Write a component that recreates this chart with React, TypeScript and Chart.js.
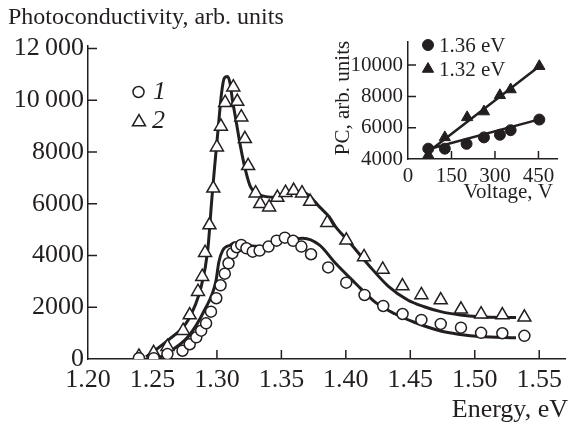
import { useEffect, useRef } from 'react';
import { Chart, registerables } from 'chart.js';

Chart.register(...registerables);

const SERIF = '"Liberation Serif", "Times New Roman", Times, serif';
const INK = '#231f20';

// ---------- main chart data ----------
const energyTicks = [1.2, 1.25, 1.3, 1.35, 1.4, 1.45, 1.5, 1.55];
const energyTickLabels = ['1.20', '1.25', '1.30', '1.35', '1.40', '1.45', '1.50', '1.55'];
const pcTicks = [0, 2000, 4000, 6000, 8000, 10000, 12000];
const pcTickLabels = ['0', '2000', '4000', '6000', '8000', '10\u2009000', '12\u2009000'];

// series 1 (circles)
const energy1 = [1.2395, 1.251, 1.2616, 1.2733, 1.2789, 1.284, 1.2878, 1.2916, 1.2954, 1.2995, 1.3028, 1.3061, 1.309, 1.312, 1.3153, 1.3189, 1.3229, 1.3278, 1.3331, 1.34, 1.3463, 1.3527, 1.3591, 1.3655, 1.373, 1.3863, 1.4003, 1.4145, 1.429, 1.444, 1.4586, 1.4736, 1.4893, 1.5049, 1.5214, 1.5385];
const pc1 = [30, 30, 190, 320, 570, 840, 1095, 1380, 1830, 2350, 2850, 3300, 3700, 4090, 4320, 4410, 4280, 4150, 4190, 4345, 4575, 4690, 4570, 4345, 4050, 3540, 2950, 2475, 2050, 1740, 1510, 1355, 1210, 1010, 995, 895];

// series 2 (triangles)
const energy2 = [1.2395, 1.2509, 1.2616, 1.2738, 1.2789, 1.2853, 1.2886, 1.2908, 1.2942, 1.2972, 1.3, 1.3031, 1.3064, 1.3127, 1.3158, 1.3189, 1.3217, 1.3242, 1.33, 1.3336, 1.3405, 1.3469, 1.3532, 1.3595, 1.366, 1.3723, 1.3856, 1.4004, 1.4141, 1.4286, 1.4439, 1.4586, 1.4736, 1.4893, 1.5049, 1.5214, 1.5385];
const pc2 = [100, 240, 475, 1095, 1700, 2600, 3180, 4110, 5180, 6600, 8190, 8990, 9910, 10510, 9950, 9350, 8510, 7470, 6410, 6000, 5870, 6240, 6430, 6510, 6410, 6085, 5270, 4590, 3945, 3460, 2820, 2475, 2280, 1920, 1730, 1700, 1610];

// fitted curves
const fitEnergy1 = [1.255, 1.2776, 1.2904, 1.2992, 1.3015, 1.3045, 1.3107, 1.3133, 1.325, 1.335, 1.35, 1.3667, 1.3794, 1.392, 1.4074, 1.4227, 1.4379, 1.4532, 1.4736, 1.4888, 1.504, 1.532];
const fitPc1 = [30, 860, 1895, 3000, 3750, 4200, 4410, 4480, 4380, 4350, 4550, 4670, 4410, 3700, 2930, 2200, 1750, 1420, 1080, 950, 870, 820];
const fitEnergy2 = [1.245, 1.2624, 1.2777, 1.2878, 1.2929, 1.296, 1.298, 1.3011, 1.3036, 1.3057, 1.3082, 1.3102, 1.312, 1.3145, 1.3183, 1.3221, 1.326, 1.333, 1.345, 1.356, 1.366, 1.372, 1.3794, 1.387, 1.392, 1.4023, 1.4176, 1.4328, 1.448, 1.4608, 1.4736, 1.4888, 1.504, 1.532];
const fitPc2 = [80, 735, 1510, 2800, 4215, 6150, 7310, 8985, 10280, 10860, 10920, 10660, 10020, 9310, 8210, 7310, 6660, 6350, 6250, 6400, 6470, 6300, 5890, 5500, 5120, 4540, 3635, 2820, 2280, 2020, 1830, 1700, 1635, 1600];

// ---------- inset data ----------
const voltageTicks = [0, 150, 300, 450];
const insetPcTicks = [4000, 6000, 8000, 10000];
const voltage136 = [70, 127, 202, 262, 317, 354, 453];
const pc136 = [4660, 4660, 4970, 5380, 5550, 5840, 6520];
const voltage132 = [70, 127, 204, 262, 317, 354, 453];
const pc132 = [4250, 5380, 6660, 7030, 8070, 8440, 9930];
const fitVoltage136 = [60, 453];
const fitPc136 = [4580, 6530];
const fitVoltage132 = [86, 453];
const fitPc132 = [4680, 9930];

const pts = (xs: number[], ys: number[]) => xs.map((x, i) => ({ x, y: ys[i] }));

const labelFor = (vals: number[], labels: string[]) => (v: any) => {
  const i = vals.findIndex((t) => Math.abs(t - Number(v)) < 1e-6);
  return i >= 0 ? labels[i] : '';
};

function drawMarker(ctx: CanvasRenderingContext2D, shape: string, x: number, y: number, r: number, fill: string, lw: number) {
  ctx.save();
  ctx.beginPath();
  if (shape === 'circle') {
    ctx.arc(x, y, r, 0, Math.PI * 2);
  } else {
    let a = 0;
    ctx.moveTo(x + Math.sin(a) * r, y - Math.cos(a) * r);
    a += (2 * Math.PI) / 3;
    ctx.lineTo(x + Math.sin(a) * r, y - Math.cos(a) * r);
    a += (2 * Math.PI) / 3;
    ctx.lineTo(x + Math.sin(a) * r, y - Math.cos(a) * r);
    ctx.closePath();
  }
  ctx.fillStyle = fill;
  ctx.fill();
  ctx.lineWidth = lw;
  ctx.strokeStyle = INK;
  ctx.stroke();
  ctx.restore();
}

type TextItem = { text: string; x: number; y: number; align: CanvasTextAlign; font: string; rotate?: boolean };
type MarkerItem = { shape: string; x: number; y: number; r: number; fill: string; lw: number };

const makeAnnotations = (id: string, texts: TextItem[], markers: MarkerItem[]) => ({
  id,
  afterDraw(chart: any) {
    const ctx: CanvasRenderingContext2D = chart.ctx;
    ctx.save();
    ctx.fillStyle = INK;
    ctx.textBaseline = 'alphabetic';
    for (const t of texts) {
      ctx.save();
      ctx.font = t.font;
      ctx.textAlign = t.align;
      if (t.rotate) {
        ctx.translate(t.x, t.y);
        ctx.rotate(-Math.PI / 2);
        ctx.fillText(t.text, 0, 0);
      } else {
        ctx.fillText(t.text, t.x, t.y);
      }
      ctx.restore();
    }
    for (const m of markers) drawMarker(ctx, m.shape, m.x, m.y, m.r, m.fill, m.lw);
    ctx.restore();
  },
});

const makeInwardTicks = (id: string, xv: number[], yv: number[], len: number, lw: number) => ({
  id,
  beforeDatasetsDraw(chart: any) {
    const ctx: CanvasRenderingContext2D = chart.ctx;
    const { left, bottom } = chart.chartArea;
    const xs = chart.scales.x;
    const ys = chart.scales.y;
    ctx.save();
    ctx.strokeStyle = INK;
    ctx.lineWidth = lw;
    ctx.beginPath();
    for (const v of xv) {
      const p = xs.getPixelForValue(v);
      ctx.moveTo(p, bottom);
      ctx.lineTo(p, bottom - len);
    }
    for (const v of yv) {
      const p = ys.getPixelForValue(v);
      ctx.moveTo(left, p);
      ctx.lineTo(left + len, p);
    }
    ctx.stroke();
    ctx.restore();
  },
});

const INSET_LEFT = 320;
const INSET_TOP = 24;
const INSET_W = 254;
const INSET_H = 182;

export default function App() {
  const mainRef = useRef<HTMLCanvasElement>(null);
  const insetRef = useRef<HTMLCanvasElement>(null);

  useEffect(() => {
    const mainFont = `26px ${SERIF}`;
    const titleFont = `24px ${SERIF}`;
    const main = new Chart(mainRef.current as HTMLCanvasElement, {
      type: 'scatter',
      data: {
        datasets: [
          { data: pts(energy1, pc1), pointStyle: 'circle', pointRadius: 5.5, pointBackgroundColor: '#fff', pointBorderColor: INK, pointBorderWidth: 1.5, showLine: false, order: 0 } as any,
          { data: pts(energy2, pc2), pointStyle: 'triangle', pointRadius: 7.5, pointBackgroundColor: '#fff', pointBorderColor: INK, pointBorderWidth: 1.5, showLine: false, order: 0 } as any,
          { data: pts(fitEnergy1, fitPc1), showLine: true, pointRadius: 0, borderColor: INK, borderWidth: 3, cubicInterpolationMode: 'monotone', order: 1 } as any,
          { data: pts(fitEnergy2, fitPc2), showLine: true, pointRadius: 0, borderColor: INK, borderWidth: 3, cubicInterpolationMode: 'monotone', order: 1 } as any,
        ],
      },
      options: {
        animation: false,
        responsive: false,
        events: [],
        layout: { padding: { top: 46, right: 1, left: 0, bottom: 0 } },
        plugins: { legend: { display: false }, tooltip: { enabled: false }, title: { display: false } },
        scales: {
          x: {
            type: 'linear',
            min: 1.2,
            max: 1.57,
            afterBuildTicks: (s: any) => { s.ticks = energyTicks.map((v) => ({ value: v })); },
            afterFit: (s: any) => { s.height = 67; },
            grid: { display: false, drawTicks: false },
            border: { display: true, color: INK, width: 1.5 },
            ticks: { callback: labelFor(energyTicks, energyTickLabels), font: { family: SERIF, size: 26 }, color: INK, padding: 6, maxRotation: 0, autoSkip: false },
          },
          y: {
            type: 'linear',
            min: 0,
            max: 12100,
            afterBuildTicks: (s: any) => { s.ticks = pcTicks.map((v) => ({ value: v })); },
            afterFit: (s: any) => { s.width = 88; },
            grid: { display: false, drawTicks: false },
            border: { display: true, color: INK, width: 1.5 },
            ticks: { callback: labelFor(pcTicks, pcTickLabels), font: { family: SERIF, size: 26 }, color: INK, padding: 4, autoSkip: false },
          },
        },
      } as any,
      plugins: [
        makeInwardTicks('mainTicks', energyTicks.slice(1), pcTicks.slice(1), 9, 1.5),
        makeAnnotations('mainText', [
          { text: 'Photoconductivity, arb. units', x: 8, y: 24, align: 'left', font: titleFont },
          { text: 'Energy, eV', x: 568, y: 417, align: 'right', font: mainFont },
          { text: '1', x: 153, y: 99, align: 'left', font: `italic ${mainFont}` },
          { text: '2', x: 152, y: 128, align: 'left', font: `italic ${mainFont}` },
        ], [
          { shape: 'circle', x: 138.5, y: 92, r: 5.5, fill: '#fff', lw: 1.5 },
          { shape: 'triangle', x: 139, y: 122, r: 7.5, fill: '#fff', lw: 1.5 },
        ]),
      ],
    });

    const insetFont = `21px ${SERIF}`;
    const inset = new Chart(insetRef.current as HTMLCanvasElement, {
      type: 'scatter',
      data: {
        datasets: [
          { data: pts(voltage136, pc136), pointStyle: 'circle', pointRadius: 5.5, pointBackgroundColor: INK, pointBorderColor: INK, pointBorderWidth: 1, showLine: false, order: 0 } as any,
          { data: pts(voltage132, pc132), pointStyle: 'triangle', pointRadius: 6.5, pointBackgroundColor: INK, pointBorderColor: INK, pointBorderWidth: 1, showLine: false, order: 0 } as any,
          { data: pts(fitVoltage136, fitPc136), showLine: true, pointRadius: 0, borderColor: INK, borderWidth: 2.5, order: 1 } as any,
          { data: pts(fitVoltage132, fitPc132), showLine: true, pointRadius: 0, borderColor: INK, borderWidth: 2.5, order: 1 } as any,
        ],
      },
      options: {
        animation: false,
        responsive: false,
        events: [],
        layout: { padding: { top: 14, right: 16.7, left: 0, bottom: 0 } },
        plugins: { legend: { display: false }, tooltip: { enabled: false }, title: { display: false } },
        scales: {
          x: {
            type: 'linear',
            min: 0,
            max: 515,
            afterBuildTicks: (s: any) => { s.ticks = voltageTicks.map((v) => ({ value: v })); },
            afterFit: (s: any) => { s.height = 47; },
            grid: { display: false, drawTicks: false },
            border: { display: true, color: INK, width: 1.5 },
            ticks: { font: { family: SERIF, size: 21 }, color: INK, padding: 5, maxRotation: 0, autoSkip: false },
          },
          y: {
            type: 'linear',
            min: 4000,
            max: 11500,
            afterBuildTicks: (s: any) => { s.ticks = insetPcTicks.map((v) => ({ value: v })); },
            afterFit: (s: any) => { s.width = 88; },
            grid: { display: false, drawTicks: false },
            border: { display: true, color: INK, width: 1.5 },
            ticks: { callback: (v: any) => String(v), font: { family: SERIF, size: 21 }, color: INK, padding: 5, autoSkip: false },
          },
        },
      } as any,
      plugins: [
        makeInwardTicks('insetTicks', voltageTicks.slice(1), insetPcTicks.slice(1), 8, 1.5),
        makeAnnotations('insetText', [
          { text: '1.36 eV', x: 439 - INSET_LEFT, y: 52 - INSET_TOP, align: 'left', font: insetFont },
          { text: '1.32 eV', x: 439 - INSET_LEFT, y: 76 - INSET_TOP, align: 'left', font: insetFont },
          { text: 'PC, arb. units', x: 349 - INSET_LEFT, y: 98 - INSET_TOP, align: 'center', font: insetFont, rotate: true },
          { text: 'Voltage, V', x: 553 - INSET_LEFT, y: 198 - INSET_TOP, align: 'right', font: insetFont },
        ], [
          { shape: 'circle', x: 428 - INSET_LEFT, y: 45 - INSET_TOP, r: 5.5, fill: INK, lw: 1 },
          { shape: 'triangle', x: 428 - INSET_LEFT, y: 69 - INSET_TOP, r: 6.5, fill: INK, lw: 1 },
        ]),
      ],
    });

    return () => {
      main.destroy();
      inset.destroy();
    };
  }, []);

  return (
    <div style={{ position: 'fixed', left: 0, top: 0, width: 574, height: 426, background: '#fff' }}>
      <canvas ref={mainRef} width={574} height={426} style={{ position: 'absolute', left: 0, top: 0, width: 574, height: 426 }} />
      <canvas ref={insetRef} width={INSET_W} height={INSET_H} style={{ position: 'absolute', left: INSET_LEFT, top: INSET_TOP, width: INSET_W, height: INSET_H }} />
    </div>
  );
}
